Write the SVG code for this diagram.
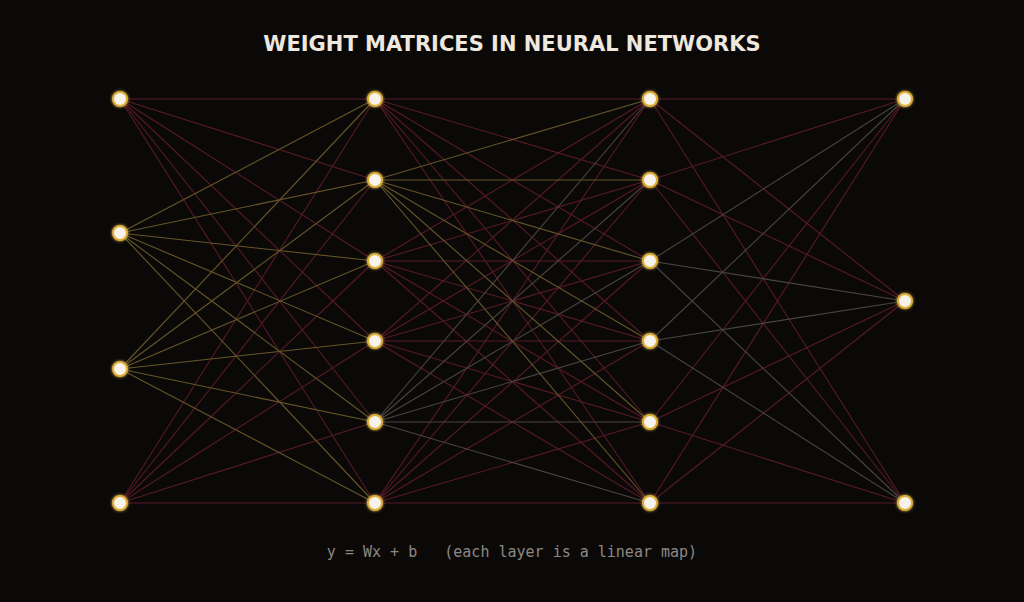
<svg xmlns="http://www.w3.org/2000/svg" width="1024" height="602" viewBox="0 0 1024 602">
<defs>
<style>
.r{stroke:#581a26;stroke-width:1.1;fill:none}
.o{stroke:#665629;stroke-width:1.1;fill:none}
.g{stroke:#484542;stroke-width:1.1;fill:none}
.n{fill:#f7f3ec;stroke:#dcae34;stroke-width:2}
.title{font-family:"DejaVu Sans",sans-serif;font-weight:bold;font-size:21px;fill:#eee8de;text-anchor:middle}
.foot{font-family:"DejaVu Sans Mono",monospace;font-size:15px;fill:#8c8782;text-anchor:middle;white-space:pre}
</style>
<filter id="glow" x="-1" y="-1" width="3" height="3">
<feGaussianBlur stdDeviation="1.5" result="b"/>
<feMerge><feMergeNode in="b"/><feMergeNode in="SourceGraphic"/></feMerge>
</filter>
</defs>
<rect width="1024" height="602" fill="#0b0908"/>
<text class="title" x="512" y="50.5">WEIGHT MATRICES IN NEURAL NETWORKS</text>
<g id="connectors">
<g class="r">
<line x1="120" y1="99" x2="375" y2="99"/><line x1="120" y1="99" x2="375" y2="180"/><line x1="120" y1="99" x2="375" y2="261"/><line x1="120" y1="99" x2="375" y2="341"/><line x1="120" y1="99" x2="375" y2="422"/><line x1="120" y1="99" x2="375" y2="503"/>
<line x1="120" y1="503" x2="375" y2="99"/><line x1="120" y1="503" x2="375" y2="180"/><line x1="120" y1="503" x2="375" y2="261"/><line x1="120" y1="503" x2="375" y2="341"/><line x1="120" y1="503" x2="375" y2="422"/><line x1="120" y1="503" x2="375" y2="503"/>
</g>
<g class="o">
<line x1="120" y1="233" x2="375" y2="99"/><line x1="120" y1="233" x2="375" y2="180"/><line x1="120" y1="233" x2="375" y2="261"/><line x1="120" y1="233" x2="375" y2="341"/><line x1="120" y1="233" x2="375" y2="422"/><line x1="120" y1="233" x2="375" y2="503"/>
<line x1="120" y1="369" x2="375" y2="99"/><line x1="120" y1="369" x2="375" y2="180"/><line x1="120" y1="369" x2="375" y2="261"/><line x1="120" y1="369" x2="375" y2="341"/><line x1="120" y1="369" x2="375" y2="422"/><line x1="120" y1="369" x2="375" y2="503"/>
</g>
<g class="r">
<line x1="375" y1="99" x2="650" y2="99"/><line x1="375" y1="99" x2="650" y2="180"/><line x1="375" y1="99" x2="650" y2="261"/><line x1="375" y1="99" x2="650" y2="341"/><line x1="375" y1="99" x2="650" y2="422"/><line x1="375" y1="99" x2="650" y2="503"/>
<line x1="375" y1="261" x2="650" y2="99"/><line x1="375" y1="261" x2="650" y2="180"/><line x1="375" y1="261" x2="650" y2="261"/><line x1="375" y1="261" x2="650" y2="341"/><line x1="375" y1="261" x2="650" y2="422"/><line x1="375" y1="261" x2="650" y2="503"/>
<line x1="375" y1="341" x2="650" y2="99"/><line x1="375" y1="341" x2="650" y2="180"/><line x1="375" y1="341" x2="650" y2="261"/><line x1="375" y1="341" x2="650" y2="341"/><line x1="375" y1="341" x2="650" y2="422"/><line x1="375" y1="341" x2="650" y2="503"/>
<line x1="375" y1="503" x2="650" y2="99"/><line x1="375" y1="503" x2="650" y2="180"/><line x1="375" y1="503" x2="650" y2="261"/><line x1="375" y1="503" x2="650" y2="341"/><line x1="375" y1="503" x2="650" y2="422"/><line x1="375" y1="503" x2="650" y2="503"/>
</g>
<g class="g">
<line x1="375" y1="422" x2="650" y2="99"/><line x1="375" y1="422" x2="650" y2="180"/><line x1="375" y1="422" x2="650" y2="261"/><line x1="375" y1="422" x2="650" y2="341"/><line x1="375" y1="422" x2="650" y2="422"/><line x1="375" y1="422" x2="650" y2="503"/>
</g>
<g class="o">
<line x1="375" y1="180" x2="650" y2="99"/><line x1="375" y1="180" x2="650" y2="180"/><line x1="375" y1="180" x2="650" y2="261"/><line x1="375" y1="180" x2="650" y2="341"/><line x1="375" y1="180" x2="650" y2="422"/><line x1="375" y1="180" x2="650" y2="503"/>
</g>
<g class="r">
<line x1="650" y1="99" x2="905" y2="99"/><line x1="650" y1="99" x2="905" y2="301"/><line x1="650" y1="99" x2="905" y2="503"/>
<line x1="650" y1="180" x2="905" y2="99"/><line x1="650" y1="180" x2="905" y2="301"/><line x1="650" y1="180" x2="905" y2="503"/>
<line x1="650" y1="422" x2="905" y2="99"/><line x1="650" y1="422" x2="905" y2="301"/><line x1="650" y1="422" x2="905" y2="503"/>
<line x1="650" y1="503" x2="905" y2="99"/><line x1="650" y1="503" x2="905" y2="301"/><line x1="650" y1="503" x2="905" y2="503"/>
</g>
<g class="g">
<line x1="650" y1="261" x2="905" y2="99"/><line x1="650" y1="261" x2="905" y2="301"/><line x1="650" y1="261" x2="905" y2="503"/>
<line x1="650" y1="341" x2="905" y2="99"/><line x1="650" y1="341" x2="905" y2="301"/><line x1="650" y1="341" x2="905" y2="503"/>
</g>
</g>
<g filter="url(#glow)">
<g id="n0_0"><circle class="n" cx="120" cy="99" r="7"/></g>
<g id="n0_1"><circle class="n" cx="120" cy="233" r="7"/></g>
<g id="n0_2"><circle class="n" cx="120" cy="369" r="7"/></g>
<g id="n0_3"><circle class="n" cx="120" cy="503" r="7"/></g>
<g id="n1_0"><circle class="n" cx="375" cy="99" r="7"/></g>
<g id="n1_1"><circle class="n" cx="375" cy="180" r="7"/></g>
<g id="n1_2"><circle class="n" cx="375" cy="261" r="7"/></g>
<g id="n1_3"><circle class="n" cx="375" cy="341" r="7"/></g>
<g id="n1_4"><circle class="n" cx="375" cy="422" r="7"/></g>
<g id="n1_5"><circle class="n" cx="375" cy="503" r="7"/></g>
<g id="n2_0"><circle class="n" cx="650" cy="99" r="7"/></g>
<g id="n2_1"><circle class="n" cx="650" cy="180" r="7"/></g>
<g id="n2_2"><circle class="n" cx="650" cy="261" r="7"/></g>
<g id="n2_3"><circle class="n" cx="650" cy="341" r="7"/></g>
<g id="n2_4"><circle class="n" cx="650" cy="422" r="7"/></g>
<g id="n2_5"><circle class="n" cx="650" cy="503" r="7"/></g>
<g id="n3_0"><circle class="n" cx="905" cy="99" r="7"/></g>
<g id="n3_1"><circle class="n" cx="905" cy="301" r="7"/></g>
<g id="n3_2"><circle class="n" cx="905" cy="503" r="7"/></g>
</g>
<text class="foot" x="512" y="557" xml:space="preserve">y = Wx + b   (each layer is a linear map)</text>
</svg>
